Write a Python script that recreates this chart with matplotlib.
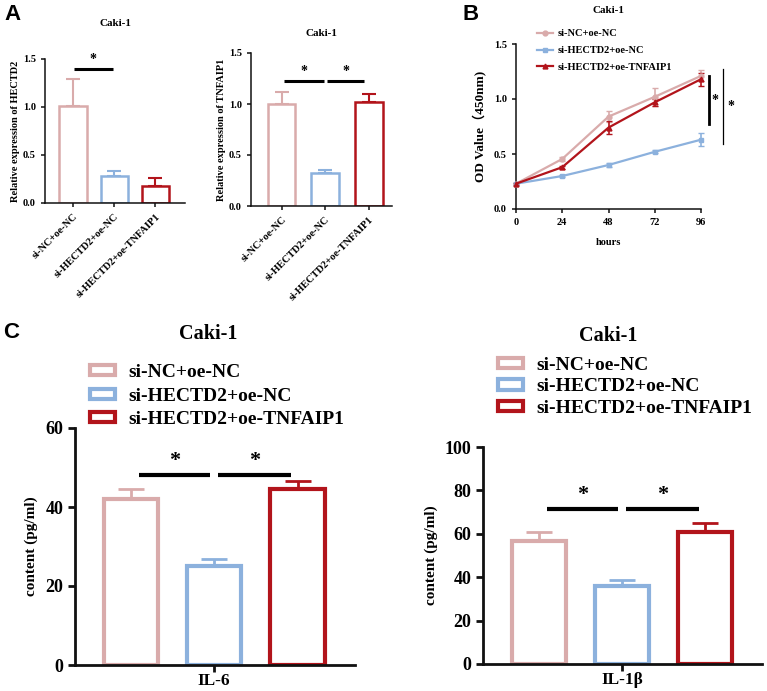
import matplotlib
matplotlib.use("Agg")
import matplotlib.pyplot as plt
from matplotlib.patches import Patch
from matplotlib.lines import Line2D
import numpy as np

W, H = 767, 691
DPI = 100

# ---------------- data ----------------
groups = ["si-NC+oe-NC", "si-HECTD2+oe-NC", "si-HECTD2+oe-TNFAIP1"]
colors = ["#D9ABAB", "#8CB1DD", "#B2141B"]

hectd2_mean = [1.01, 0.28, 0.18]
hectd2_err = [0.28, 0.05, 0.08]

tnfaip1_mean = [1.00, 0.32, 1.02]
tnfaip1_err = [0.12, 0.03, 0.08]

hours = [0, 24, 48, 72, 96]
od_nc = [0.23, 0.455, 0.84, 1.02, 1.21]
od_nc_err = [0.01, 0.015, 0.05, 0.08, 0.05]
od_hectd2 = [0.23, 0.30, 0.40, 0.52, 0.63]
od_hectd2_err = [0.01, 0.01, 0.015, 0.015, 0.06]
od_tnf = [0.23, 0.38, 0.74, 0.97, 1.18]
od_tnf_err = [0.01, 0.015, 0.06, 0.03, 0.06]

il6_mean = [42.0, 25.0, 44.5]
il6_err = [2.5, 1.8, 2.1]
il1b_mean = [56.5, 36.0, 61.0]
il1b_err = [4.3, 2.5, 3.8]

SERIF = "Liberation Serif"
SANS = "Liberation Sans"
plt.rcParams["font.family"] = SERIF
plt.rcParams["font.weight"] = "bold"
plt.rcParams["axes.labelweight"] = "bold"

fig = plt.figure(figsize=(W / DPI, H / DPI), dpi=DPI)


def ax_px(l, t, r, b):
    return fig.add_axes([l / W, 1 - b / H, (r - l) / W, (b - t) / H])


def style_axes(ax, lw, fs, ticklen):
    for s in ["top", "right"]:
        ax.spines[s].set_visible(False)
    for s in ["left", "bottom"]:
        ax.spines[s].set_linewidth(lw)
        ax.spines[s].set_color("#111111")
    ax.tick_params(axis="both", width=lw, length=ticklen, labelsize=fs,
                   color="#111111", direction="out")
    for lab in ax.get_xticklabels() + ax.get_yticklabels():
        lab.set_fontweight("bold")


def bar_panel_A(ax, means, errs, ylabel, title, xlim, width, sigs, sig_y):
    x = np.arange(len(means))
    for i in range(len(means)):
        ax.bar(x[i], means[i], width=width, facecolor="white",
               edgecolor=colors[i], linewidth=1.8, zorder=2)
        ax.errorbar(x[i], means[i], yerr=[[0], [errs[i]]], color=colors[i],
                    capsize=5, elinewidth=1.5, capthick=1.5, zorder=1)
    ax.set_xlim(*xlim)
    ax.set_ylim(0, 1.5)
    ax.set_yticks([0, 0.5, 1.0, 1.5])
    ax.set_yticklabels(["0.0", "0.5", "1.0", "1.5"])
    ax.set_xticks(x)
    ax.set_xticklabels(groups, rotation=45, ha="right", rotation_mode="anchor")
    style_axes(ax, 1.1, 7.5, 3)
    ax.set_ylabel(ylabel, fontsize=7.5, fontweight="bold", labelpad=2)
    ax.set_title(title, fontsize=8, fontweight="bold", pad=24 if len(sigs) == 1 else 12)
    for (a, b) in sigs:
        ax.plot([a, b], [sig_y, sig_y], color="black", lw=2.2, clip_on=False,
                solid_capstyle="butt")
        ax.text((a + b) / 2, sig_y + 0.03, "*", ha="center", va="bottom",
                fontsize=10, fontweight="bold")


# ---------------- Panel A ----------------
axA1 = ax_px(45, 59, 185, 203)
bar_panel_A(axA1, hectd2_mean, hectd2_err, "Relative expression of HECTD2",
            "Caki-1", (-0.68, 2.72), 0.66, [(0.02, 0.97)], 1.395)

axA2 = ax_px(251, 53, 392, 206)
bar_panel_A(axA2, tnfaip1_mean, tnfaip1_err, "Relative expression of TNFAIP1",
            "Caki-1", (-0.70, 2.53), 0.63, [(0.05, 0.97), (1.05, 1.88)], 1.225)

# ---------------- Panel B ----------------
axB = ax_px(516, 44, 701, 209)
series = [
    (od_nc, od_nc_err, colors[0], "o"),
    (od_hectd2, od_hectd2_err, colors[1], "s"),
    (od_tnf, od_tnf_err, colors[2], "^"),
]
handles = []
for (vals, errs, c, m), name in zip(series, groups):
    axB.errorbar(hours, vals, yerr=errs, color=c, marker=m, markersize=3.5,
                 lw=1.6, capsize=2, elinewidth=1.2, clip_on=False, zorder=3)
    handles.append(Line2D([0], [0], color=c, marker=m, markersize=3.5, lw=1.6))
axB.set_xlim(0, 96)
axB.set_ylim(0, 1.5)
axB.set_xticks(hours)
axB.set_yticks([0, 0.5, 1.0, 1.5])
axB.set_yticklabels(["0.0", "0.5", "1.0", "1.5"])
style_axes(axB, 1.1, 7.5, 3)
axB.set_xlabel("hours", fontsize=7.5, fontweight="bold", labelpad=8)
axB.set_ylabel("OD Value（450nm)", fontsize=9.5, fontweight="bold", labelpad=5,
               family=[SERIF, "Noto Sans CJK SC"])
axB.set_title("Caki-1", fontsize=8, fontweight="bold", pad=22)
axB.legend(handles, groups, loc="upper left", bbox_to_anchor=(0.092, 1.115),
           frameon=False, fontsize=7.5, handlelength=1.5, labelspacing=0.72,
           handletextpad=0.5, borderaxespad=0)
# significance lines
axB.plot([100, 100], [0.77, 1.21], color="black", lw=2.0, clip_on=False)
axB.text(103, 0.99, "*", ha="center", va="center", fontsize=10, fontweight="bold")
axB.plot([107.5, 107.5], [0.59, 1.27], color="black", lw=0.9, clip_on=False)
axB.text(111.5, 0.93, "*", ha="center", va="center", fontsize=10, fontweight="bold")


# ---------------- Panel C ----------------
def bar_panel_C(ax, means, errs, label, ymax, yticks, sig_y, star_off, xlim):
    x = np.array([-1, 0, 1])
    for i in range(3):
        ax.bar(x[i], means[i], width=0.65, facecolor="white",
               edgecolor=colors[i], linewidth=3.0, zorder=2)
        ax.errorbar(x[i], means[i], yerr=[[0], [errs[i]]], color=colors[i],
                    capsize=9.5, elinewidth=2.0, capthick=2.0, zorder=1)
    ax.set_xlim(*xlim)
    ax.set_ylim(0, ymax)
    ax.set_yticks(yticks)
    ax.set_xticks([0])
    ax.set_xticklabels([label])
    style_axes(ax, 2.0, 13, 5)
    ax.tick_params(axis="x", pad=0.5, labelsize=12.5)
    ax.set_ylabel("content (pg/ml)", fontsize=11, fontweight="bold", labelpad=5)
    for a, b in [(-0.9, -0.05), (0.05, 0.92)]:
        ax.plot([a, b], [sig_y, sig_y], color="black", lw=3.0, clip_on=False,
                solid_capstyle="butt")
        ax.text((a + b) / 2, sig_y + star_off, "*", ha="center", va="bottom",
                fontsize=16, fontweight="bold")


axC1 = ax_px(75, 428, 355, 665)
bar_panel_C(axC1, il6_mean, il6_err, "IL-6", 60, [0, 20, 40, 60], 48.0, 1.2,
            (-1.67, 1.69))
axC2 = ax_px(483, 447, 762, 664)
bar_panel_C(axC2, il1b_mean, il1b_err, "IL-1β", 100, [0, 20, 40, 60, 80, 100],
            71.2, 2.0, (-1.67, 1.68))

leg_handles = [Patch(facecolor="white", edgecolor=c, linewidth=3.0) for c in colors]
fig.legend(leg_handles, groups, loc="upper left",
           bbox_to_anchor=(82 / W, 1 - 356 / H), frameon=False, fontsize=14,
           handlelength=1.3, handleheight=0.42, labelspacing=0.35,
           handletextpad=0.7, borderaxespad=0)
fig.legend(leg_handles, groups, loc="upper left",
           bbox_to_anchor=(490 / W, 1 - 349 / H), frameon=False, fontsize=14,
           handlelength=1.3, handleheight=0.42, labelspacing=0.24,
           handletextpad=0.7, borderaxespad=0)
fig.text(208 / W, 1 - 334 / H, "Caki-1", ha="center", va="center", fontsize=14.5,
         fontweight="bold")
fig.text(608 / W, 1 - 336 / H, "Caki-1", ha="center", va="center", fontsize=14.5,
         fontweight="bold")

# panel letters
for txt, x, y in [("A", 4, 14), ("B", 462, 14), ("C", 3, 333)]:
    fig.text(x / W, 1 - y / H, txt, ha="left", va="center", fontsize=16,
             fontweight="bold", family=SANS)

fig.savefig("out.png", dpi=DPI)
